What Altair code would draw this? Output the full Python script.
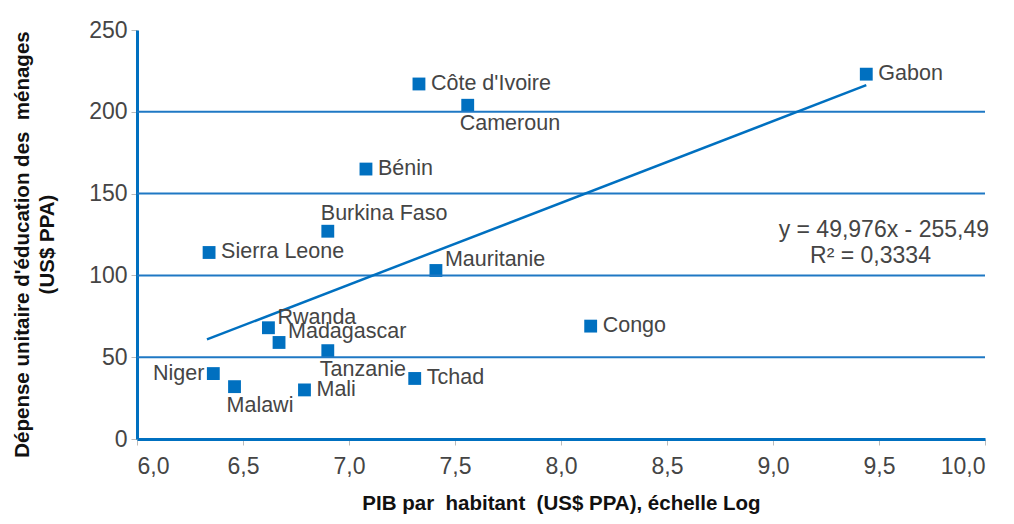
import altair as alt
import pandas as pd

countries = ["Gabon", "Côte d'Ivoire", "Cameroun", "Bénin", "Burkina Faso",
             "Sierra Leone", "Mauritanie", "Rwanda", "Madagascar", "Tanzanie",
             "Congo", "Niger", "Malawi", "Mali", "Tchad"]
log_gdp = [9.44, 7.33, 7.56, 7.08, 6.90, 6.34, 7.41, 6.62, 6.67, 6.90,
           8.14, 6.36, 6.46, 6.79, 7.31]
spending = [223, 217, 204, 165, 127, 114, 103, 68, 59, 54, 69, 40, 32, 30, 37]
placement = ["right", "right", "below", "right", "above", "right", "upright",
             "upright", "upright", "below", "right", "left", "below", "right", "right"]

slope = 49.976
intercept = -255.49
trend_x = [6.33, 9.44]
grid_values = [50, 100, 150, 200]
x_ticks = [6.0, 6.5, 7.0, 7.5, 8.0, 8.5, 9.0, 9.5, 10.0]
y_ticks = [0, 50, 100, 150, 200, 250]

BLUE = "#0070C0"
TEXT = "#454545"
FONT = "Liberation Sans"

df = pd.DataFrame({"country": countries, "x": log_gdp, "y": spending, "place": placement})
trend = pd.DataFrame({"x": trend_x, "y": [slope * v + intercept for v in trend_x]})
grid = pd.DataFrame({"y": grid_values})

xscale = alt.Scale(domain=[6, 10], nice=False, zero=False)
yscale = alt.Scale(domain=[0, 250], nice=False)

xaxis = alt.Axis(values=x_ticks, labelExpr="replace(format(datum.value, '.1f'), '.', ',')",
                 title="PIB par\u00a0 habitant\u00a0 (US$ PPA), échelle Log",
                 titleFont=FONT, titleFontSize=20.5, titleFontWeight="bold", titleColor="#111111",
                 titleY=64, titleBaseline="middle",
                 labelFont=FONT, labelFontSize=23, labelColor=TEXT, labelPadding=10,
                 domainColor=BLUE, domainWidth=3, tickColor="#bbbbbb", tickSize=6,
                 grid=False)
yaxis = alt.Axis(values=y_ticks,
                 title=["Dépense unitaire d'éducation des\u00a0 ménages", "(US$ PPA)"],
                 titleFont=FONT, titleFontSize=20.5, titleFontWeight="bold", titleColor="#111111",
                 titleAngle=-90, titleX=-115, titleY=214, titleAlign="center",
                 titleBaseline="middle", titleLineHeight=25,
                 labelFont=FONT, labelFontSize=23, labelColor=TEXT, labelPadding=4,
                 domainColor=BLUE, domainWidth=3, tickColor="#bbbbbb", tickSize=6,
                 grid=False)

X = alt.X("x:Q", scale=xscale)
Y = alt.Y("y:Q", scale=yscale)

grid_layer = alt.Chart(grid).mark_rule(color="#1F78C4", strokeWidth=2).encode(y=Y)

trend_layer = alt.Chart(trend).mark_line(color=BLUE, strokeWidth=2.5).encode(x=X, y=Y)

points = alt.Chart(df).mark_square(size=165, color=BLUE, opacity=1, filled=True).encode(
    x=alt.X("x:Q", scale=xscale, axis=xaxis), y=alt.Y("y:Q", scale=yscale, axis=yaxis))

offsets = {
    "right": dict(align="left", dx=12, dy=0),
    "upright": dict(align="left", dx=9, dy=-10),
    "below": dict(align="left", dx=-8, dy=19),
    "above": dict(align="left", dx=-7, dy=-17),
    "left": dict(align="right", dx=-9, dy=0),
}
label_layers = []
for key, o in offsets.items():
    label_layers.append(
        alt.Chart(df).transform_filter(alt.datum.place == key).mark_text(
            font=FONT, fontSize=21.5, color=TEXT, baseline="middle", **o
        ).encode(x=X, y=Y, text="country:N")
    )

eq = pd.DataFrame({"x": [10.0], "y": [128.0], "t": ["y = 49,976x - 255,49"]})
r2 = pd.DataFrame({"x": [9.46], "y": [112.0], "t": ["R² = 0,3334"]})
eq_layer = alt.Chart(eq).mark_text(font=FONT, fontSize=23, color=TEXT, align="right",
                                   baseline="middle", dx=4).encode(x=X, y=Y, text="t:N")
r2_layer = alt.Chart(r2).mark_text(font=FONT, fontSize=23, color=TEXT, align="center",
                                   baseline="middle").encode(x=X, y=Y, text="t:N")

chart = alt.layer(points, grid_layer, trend_layer, *label_layers, eq_layer, r2_layer).properties(
    width=848, height=409,
    background="white",
    autosize=alt.AutoSizeParams(type="none"),
    padding={"left": 129, "top": 22, "right": 21, "bottom": 77},
).configure_view(stroke=None)

chart.save("out.html", embed_options={"renderer": "svg", "actions": False})
